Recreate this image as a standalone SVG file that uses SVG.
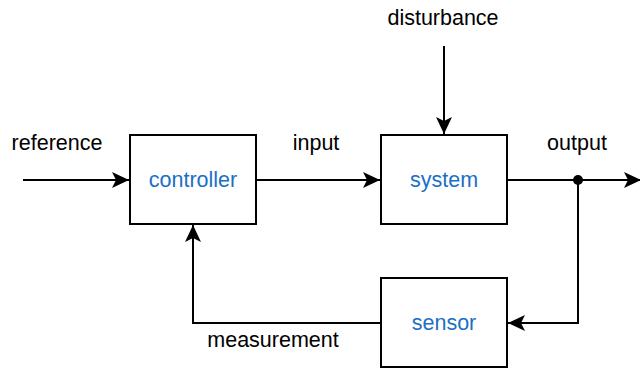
<svg xmlns="http://www.w3.org/2000/svg" width="640" height="370" viewBox="0 0 640 370">
<defs>
<marker id="ah" markerUnits="userSpaceOnUse" markerWidth="20" markerHeight="16" refX="17" refY="8" orient="auto">
<path d="M0,0 L17,8 L0,16 L4,8 Z" fill="#000"/>
</marker>
<style>
.box{fill:#fff;stroke:#000;stroke-width:2}
.lbl{font-family:"Liberation Sans",Arial,sans-serif;font-size:21.5px;fill:#000;text-anchor:middle}
.nl{font-family:"Liberation Sans",Arial,sans-serif;font-size:21.5px;fill:#1b70c4;text-anchor:middle}
.ed{fill:none;stroke:#000;stroke-width:2}
</style>
</defs>
<g id="connectors">
<path class="ed" d="M23,180 H129" marker-end="url(#ah)"/>
<path class="ed" d="M256,180 H380" marker-end="url(#ah)"/>
<path class="ed" d="M444,46 V134" marker-end="url(#ah)"/>
<path class="ed" d="M507,180 H641" marker-end="url(#ah)"/>
<path class="ed" d="M578,180 V323 H508" marker-end="url(#ah)"/>
<path class="ed" d="M381,323 H193 V225" marker-end="url(#ah)"/>
<circle cx="578" cy="180" r="5" fill="#000"/>
<text class="lbl" x="57" y="150">reference</text>
<text class="lbl" x="316" y="150">input</text>
<text class="lbl" x="443" y="25">disturbance</text>
<text class="lbl" x="577" y="150">output</text>
<text class="lbl" x="273" y="347">measurement</text>
</g>
<g id="controller">
<rect class="box" x="130" y="135" width="126" height="89"/>
<text class="nl" x="193" y="187">controller</text>
</g>
<g id="system">
<rect class="box" x="381" y="135" width="126" height="89"/>
<text class="nl" x="444" y="187">system</text>
</g>
<g id="sensor">
<rect class="box" x="381" y="278" width="126" height="89"/>
<text class="nl" x="444" y="330">sensor</text>
</g>
</svg>
